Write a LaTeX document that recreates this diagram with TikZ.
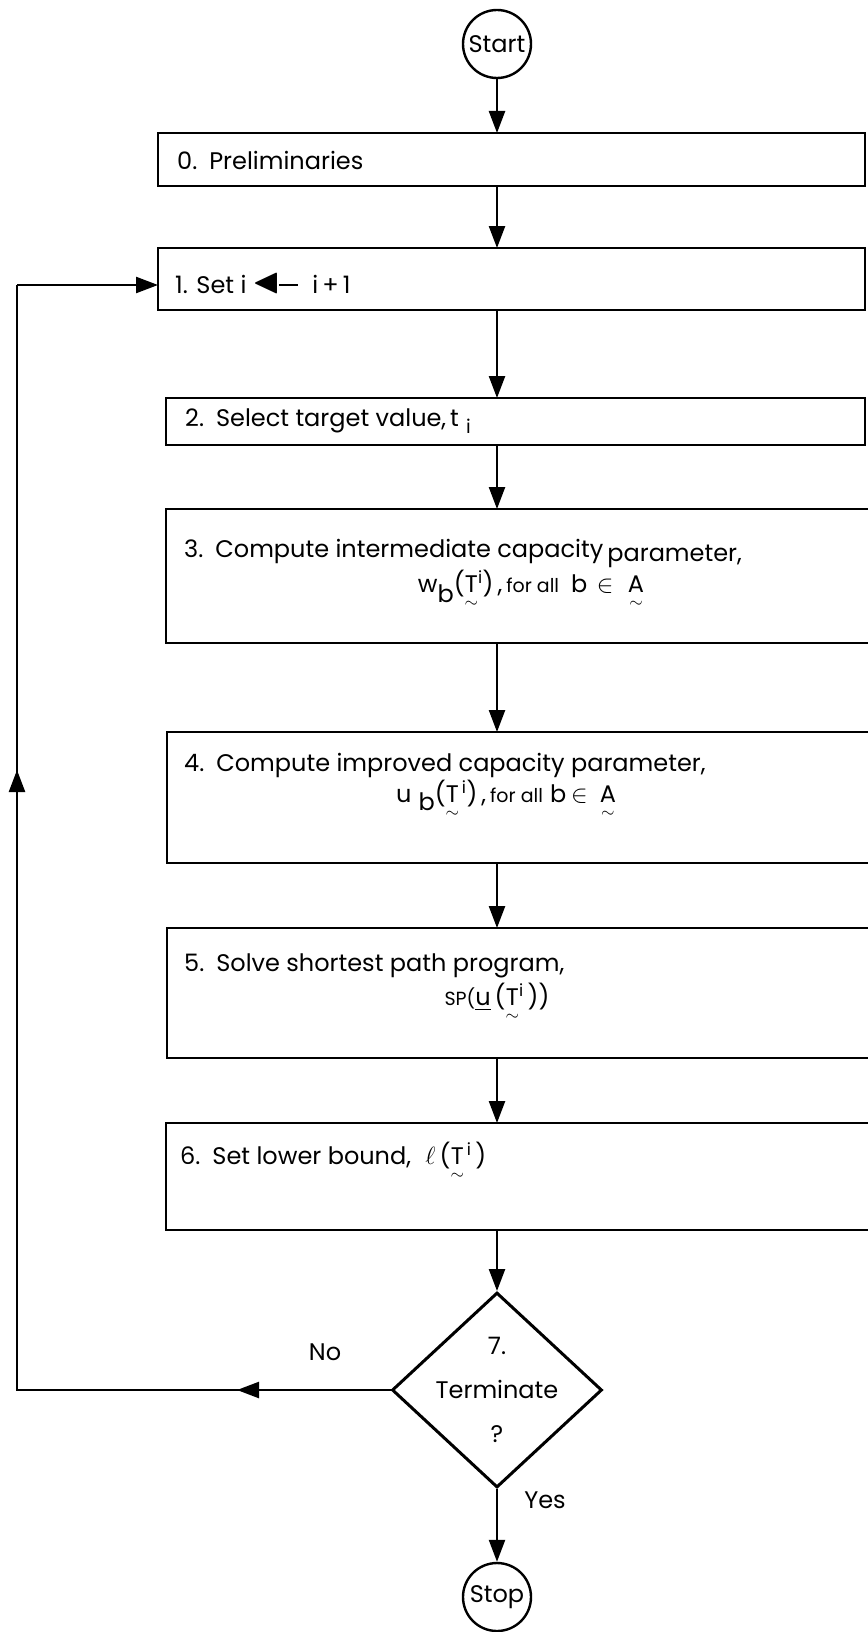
\documentclass[tikz,border=0pt]{standalone}
\usepackage{amsmath,amssymb}
\usepackage{fontspec}
\setmainfont{Poppins}
\usetikzlibrary{arrows.meta,positioning,shapes.geometric}

% letter with a tilde set below it
\newcommand{\tl}[1]{\ensuremath{\underset{\sim}{\text{#1}}}}
% filled assignment arrow used in step 1
\newcommand{\getsarrow}{\raisebox{0.05em}{\scalebox{1.5}{$\blacktriangleleft$}}\kern-2pt\rule[0.3em]{0.8em}{2.6pt}}
% smaller type for side words
\newcommand{\smallish}{\fontsize{19}{22}\selectfont}

\begin{document}
\begin{tikzpicture}[
	x=1pt, y=-1pt,
	every node/.style={font=\fontsize{24}{28}\selectfont},
	stepbox/.style={draw, line width=2.4pt, anchor=north west, inner sep=0pt, outer sep=0pt},
	terminal/.style={draw, circle, line width=2.4pt, minimum size=68pt, inner sep=0pt},
	test/.style={draw, diamond, line width=3pt, minimum width=210pt, minimum height=195pt, inner sep=0pt},
	arrow/.style={-{Triangle[length=22pt, width=16pt]}, line width=2.4pt},
	line/.style={line width=2.4pt},
	txt/.style={anchor=west, inner sep=0pt}
	]
	
	\useasboundingbox (0,0) rectangle (867,1632);
	
	\node[terminal] (start) at (497,44) {Start};
	
	\node[stepbox, minimum width=707pt, minimum height=53pt] (b0) at (158,133) {};
	\node[stepbox, minimum width=707pt, minimum height=62pt] (b1) at (158,248) {};
	\node[stepbox, minimum width=699pt, minimum height=47pt] (b2) at (166,398) {};
	\node[stepbox, minimum width=720pt, minimum height=134pt] (b3) at (166,509) {};
	\node[stepbox, minimum width=720pt, minimum height=131pt] (b4) at (167,732) {};
	\node[stepbox, minimum width=720pt, minimum height=130pt] (b5) at (167,928) {};
	\node[stepbox, minimum width=720pt, minimum height=107pt] (b6) at (166,1123) {};
	
	\node[test] (term) at (497,1390) {};
	\node[terminal] (stop) at (497,1597) {Stop};
	
	% step texts
	\node[txt] (t0) at (177,160) {0.\hspace{0.5em}Preliminaries};
	\node[txt] (t1) at (175,283) {1. Set i \getsarrow\hspace{0.6em}i\,+\,1};
	\node[txt] (t2) at (185,421) {2.\hspace{0.5em}Select target value,\,t\hspace{0.3em}\raisebox{-7pt}{\smallish i}};
	\node[txt] (t3) at (184,553) {3.\hspace{0.5em}Compute intermediate capacity\,\raisebox{-4pt}{parameter,}};
	\node (t3b) at (531,590) {w\raisebox{-10pt}{b}(\tl{T}\textsuperscript{i})\,,\,{\smallish for all}\hspace{0.5em}b\hspace{0.4em}$\in$\hspace{0.6em}\tl{A}};
	\node[txt] (t4) at (184,765) {4.\hspace{0.5em}Compute improved capacity parameter,};
	\node (t4b) at (506,800) {u\hspace{0.3em}\raisebox{-8pt}{b}(\tl{T}\textsuperscript{\,i})\,,\,{\smallish for all}\hspace{0.3em}b\hspace{0.2em}$\in$\hspace{0.5em}\tl{A}};
	\node[txt] (t5) at (184,966) {5.\hspace{0.5em}Solve shortest path program,};
	\node (t5b) at (497,1003) {{\smallish SP(}\underline{u}\,(\tl{T}\textsuperscript{i}\,))};
	\node[txt] (t6) at (180,1162) {6.\hspace{0.5em}Set lower bound,\hspace{0.6em}$\ell$\,(\tl{T}\textsuperscript{\,i}\,)};
	\node[align=center, font=\fontsize{24}{44}\selectfont] (tt) at (term) {7.\\Terminate\\?};
	
	% flow down the column
	\draw[arrow] (start) -- (start |- b0.north);
	\draw[arrow] (start |- b0.south) -- (start |- b1.north);
	\draw[arrow] (start |- b1.south) -- (start |- b2.north);
	\draw[arrow] (start |- b2.south) -- (start |- b3.north);
	\draw[arrow] (start |- b3.south) -- (start |- b4.north);
	\draw[arrow] (start |- b4.south) -- (start |- b5.north);
	\draw[arrow] (start |- b5.south) -- (start |- b6.north);
	\draw[arrow] (start |- b6.south) -- (term.north);
	\draw[arrow] (term.south) -- (stop.north);
	
	% loop back to step 1
	\coordinate (lowcorner) at (17,1390);
	\coordinate (upcorner) at (17,285);
	\coordinate (nomid) at (237,1390);
	\coordinate (upmid) at (17,770);
	\draw[line] (term.west) -- (lowcorner) -- (upcorner);
	\draw[arrow] (term.west) -- (nomid);
	\draw[arrow] (lowcorner) -- (upmid);
	\draw[arrow] (upcorner) -- (upcorner -| b1.west);
	
	\node (no) at (325,1352) {No};
	\node (yes) at (545,1500) {Yes};
	
\end{tikzpicture}
\end{document}
